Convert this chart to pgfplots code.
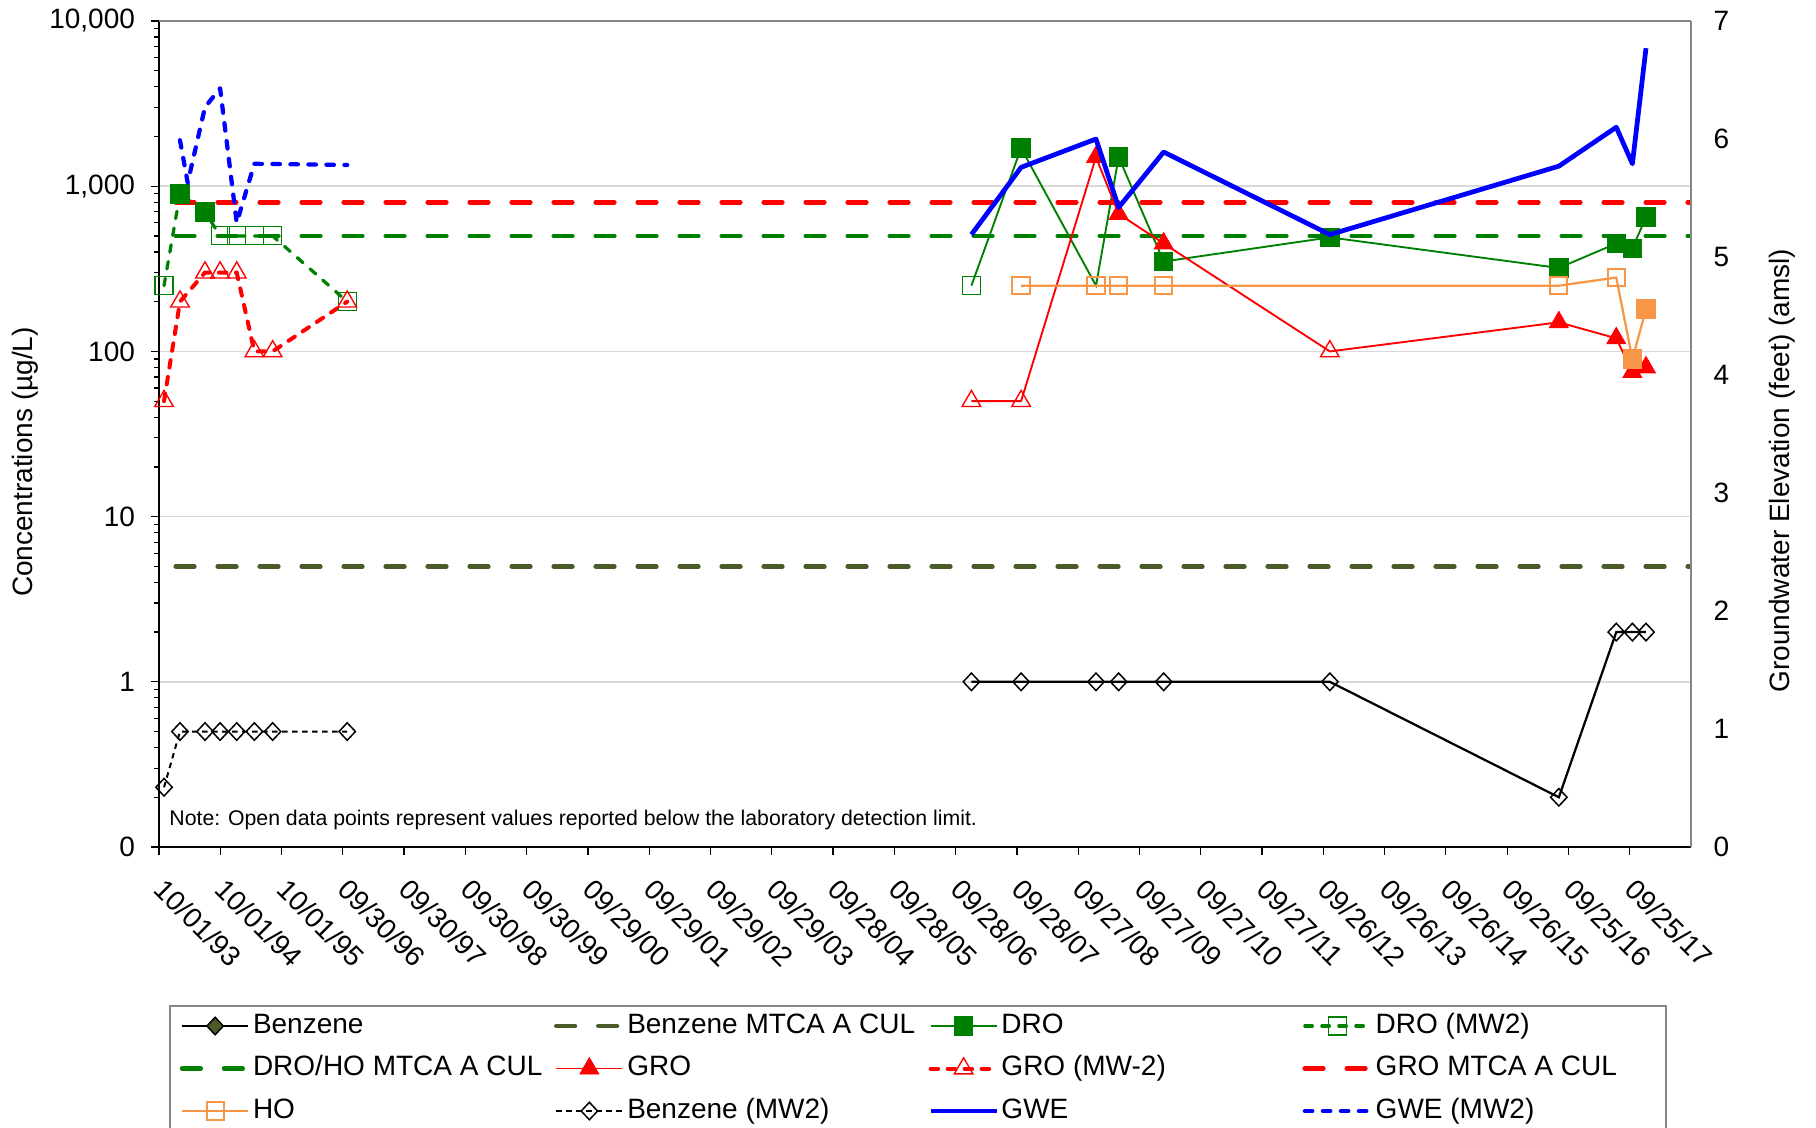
\documentclass[border=0pt]{standalone}
\usepackage{fontspec}
\setmainfont{Liberation Sans}
\usepackage{pgfplots}
\pgfplotsset{compat=1.18}
\definecolor{droG}{HTML}{008000}
\definecolor{groR}{HTML}{FF0000}
\definecolor{hoO}{HTML}{F79646}
\definecolor{gweB}{HTML}{0000FF}
\definecolor{bzO}{HTML}{4A5A28}
\definecolor{gridc}{HTML}{D9D9D9}
\definecolor{bordc}{HTML}{868686}
\tikzset{
  cul/.style={line width=1.9pt, dash pattern=on 7.4pt off 9.4pt, line cap=round},
  mwdash/.style={dash pattern=on 3pt off 3.8pt, line cap=round},
}
\newcommand{\lt}[1]{\makebox[117pt][l]{#1}}
\newcommand{\ltl}[1]{\makebox[112pt][l]{#1}}
\begin{document}
\begin{tikzpicture}
\path[use as bounding box] (-63.6pt,-112pt) rectangle (662.8pt,338.8pt);
\begin{axis}[
  scale only axis, width=612.8pt, height=330.4pt,
  xmin=0, xmax=9125, ymode=log, ymin=0.1, ymax=10000,
  axis x line*=bottom, axis y line*=left,
  axis line style={black, line width=0.6pt},
  tick align=outside,
  major tick length=3pt, minor tick length=2pt,
  tick style={black, line width=0.5pt},
  xtick={0,365,...,8760},
  xticklabels={10/01/93,10/01/94,10/01/95,09/30/96,09/30/97,09/30/98,09/30/99,09/29/00,09/29/01,09/29/02,09/29/03,09/28/04,09/28/05,09/28/06,09/28/07,09/27/08,09/27/09,09/27/10,09/27/11,09/26/12,09/26/13,09/26/14,09/26/15,09/25/16,09/25/17},
  xticklabel style={rotate=-45, anchor=north west, font=\fontsize{11.2}{13}\selectfont, xshift=5.2pt, yshift=-0.7pt},
  ytick={0.1,1,10,100,1000,10000},
  yticklabels={0,1,10,100,{1,000},{10,000}},
  minor ytick={0.2,0.3,0.4,0.5,0.6,0.7,0.8,0.9,2,3,4,5,6,7,8,9,20,30,40,50,60,70,80,90,200,300,400,500,600,700,800,900,2000,3000,4000,5000,6000,7000,8000,9000},
  yticklabel style={font=\fontsize{11.2}{13}\selectfont, xshift=-3.1pt},
  ymajorgrids, major grid style={gridc, line width=0.7pt},
  ylabel={Concentrations (µg/L)},
  every axis y label/.style={at={(axis description cs:-0.0871,0.466)}, anchor=center, rotate=90, font=\fontsize{11.2}{13}\selectfont},
  legend columns=4, legend cell align=left,
  legend style={at={(0.00653,-0.1913)}, anchor=north west, draw=bordc, line width=0.6pt,
    inner xsep=4pt, inner ysep=2.8pt, row sep=6.4pt, font=\fontsize{11.2}{13}\selectfont,
    /tikz/every even column/.append style={column sep=3.4pt},
    /tikz/every odd column/.append style={column sep=1pt},
    nodes={inner xsep=0pt, inner ysep=0pt, text height=8.2pt, text depth=2.4pt}},
  legend image code/.code={\draw[mark repeat=2,mark phase=2,#1] plot coordinates {(0pt,0pt) (13.2pt,0pt) (26.4pt,0pt)};},
]
% Benzene (main well)
\addplot[black, line width=0.9pt, forget plot] coordinates {(4839,1)(5135,1)(5581,1)(5716,1)(5984,1)(6974,1)(8338,0.2)(8680,2)(8776,2)(8857,2)};
\addplot[only marks, mark=diamond, mark size=3.5pt, mark options={black, line width=0.6pt, fill=none, xscale=1.25}, forget plot] coordinates {(4839,1)(5135,1)(5581,1)(5716,1)(5984,1)(6974,1)(8338,0.2)(8680,2)(8776,2)(8857,2)};
% Benzene MTCA A CUL
\addplot[bzO, cul, forget plot] coordinates {(100,5)(9300,5)};
% DRO
\addplot[droG, line width=0.75pt, forget plot] coordinates {(4839,250)(5135,1700)(5581,250)(5716,1500)(5984,350)(6974,490)(8338,320)(8680,450)(8776,420)(8857,650)};
\addplot[only marks, mark=square*, mark size=3.7pt, mark options={droG, line width=0.4pt}, forget plot] coordinates {(5135,1700)(5716,1500)(5984,350)(6974,490)(8338,320)(8680,450)(8776,420)(8857,650)};
\addplot[only marks, mark=square, mark size=3.6pt, mark options={droG, line width=0.45pt, fill=none}, forget plot] coordinates {(4839,250)(5581,250)};
% DRO (MW2)
\addplot[droG, line width=1.3pt, mwdash, forget plot] coordinates {(30,250)(125,900)(274,700)(364,500)(463,500)(568,500)(677,500)(1121,200)};
\addplot[only marks, mark=square*, mark size=3.7pt, mark options={droG, solid, line width=0.4pt}, forget plot] coordinates {(125,900)(274,700)};
\addplot[only marks, mark=square, mark size=3.6pt, mark options={droG, solid, line width=0.45pt, fill=none}, forget plot] coordinates {(30,250)(364,500)(463,500)(568,500)(677,500)(1121,200)};
% DRO/HO MTCA A CUL
\addplot[droG, cul, forget plot] coordinates {(100,500)(9300,500)};
% GRO
\addplot[groR, line width=0.75pt, forget plot] coordinates {(4839,50)(5135,50)(5581,1500)(5716,680)(5984,450)(6974,100)(8338,150)(8680,120)(8776,75)(8857,80)};
\addplot[only marks, mark=triangle*, mark size=4.4pt, mark options={groR, line width=0.3pt}, forget plot] coordinates {(5581,1500)(5716,680)(5984,450)(8338,150)(8680,120)(8776,75)(8857,80)};
\addplot[only marks, mark=triangle, mark size=4.3pt, mark options={groR, line width=0.55pt, fill=none}, forget plot] coordinates {(4839,50)(5135,50)(6974,100)};
% GRO (MW-2)
\addplot[groR, line width=1.6pt, mwdash, forget plot] coordinates {(30,50)(125,200)(274,300)(364,300)(463,300)(568,100)(677,100)(1121,200)};
\addplot[only marks, mark=triangle, mark size=4.3pt, mark options={groR, solid, line width=0.55pt, fill=none}, forget plot] coordinates {(30,50)(125,200)(274,300)(364,300)(463,300)(568,100)(677,100)(1121,200)};
% GRO MTCA A CUL
\addplot[groR, cul, forget plot] coordinates {(100,800)(9300,800)};
% HO
\addplot[hoO, line width=0.9pt, forget plot] coordinates {(5135,250)(5581,250)(5716,250)(5984,250)(8338,250)(8680,280)(8776,90)(8857,180)};
\addplot[only marks, mark=square*, mark size=3.7pt, mark options={hoO, line width=0.4pt}, forget plot] coordinates {(8776,90)(8857,180)};
\addplot[only marks, mark=square, mark size=3.45pt, mark options={hoO, line width=0.8pt, fill=none}, forget plot] coordinates {(5135,250)(5581,250)(5716,250)(5984,250)(8338,250)(8680,280)};
% Benzene (MW2)
\addplot[black, line width=0.8pt, dash pattern=on 2.2pt off 1.8pt, forget plot] coordinates {(30,0.23)(125,0.5)(274,0.5)(364,0.5)(463,0.5)(568,0.5)(677,0.5)(1121,0.5)};
\addplot[only marks, mark=diamond, mark size=3.5pt, mark options={black, solid, line width=0.6pt, fill=none, xscale=1.25}, forget plot] coordinates {(30,0.23)(125,0.5)(274,0.5)(364,0.5)(463,0.5)(568,0.5)(677,0.5)(1121,0.5)};
% note
\node[anchor=west, inner sep=0pt, font=\fontsize{8.5}{10}\selectfont] at (axis description cs:0.0065,0.0327) {Note: Open data points represent values reported below the laboratory detection limit.};
% legend
\addlegendimage{black, line width=0.9pt, mark=diamond*, mark size=3.5pt, mark options={solid, fill=bzO, draw=black, line width=0.6pt, xscale=1.25}}
\addlegendentry{\lt{Benzene}}
\addlegendimage{bzO, cul}
\addlegendentry{\lt{Benzene MTCA A CUL}}
\addlegendimage{droG, line width=0.75pt, mark=square*, mark size=3.7pt, mark options={droG, line width=0.4pt}}
\addlegendentry{\lt{DRO}}
\addlegendimage{droG, line width=1.3pt, mwdash, mark=square, mark size=3.6pt, mark options={solid, droG, line width=0.45pt, fill=none}}
\addlegendentry{\ltl{DRO (MW2)}}
\addlegendimage{droG, cul}
\addlegendentry{\lt{DRO/HO MTCA A CUL}}
\addlegendimage{groR, line width=0.75pt, mark=triangle*, mark size=4.4pt, mark options={groR, line width=0.3pt}}
\addlegendentry{\lt{GRO}}
\addlegendimage{groR, line width=1.6pt, mwdash, mark=triangle, mark size=4.3pt, mark options={solid, groR, line width=0.55pt, fill=none}}
\addlegendentry{\lt{GRO (MW-2)}}
\addlegendimage{groR, cul}
\addlegendentry{\ltl{GRO MTCA A CUL}}
\addlegendimage{hoO, line width=0.9pt, mark=square, mark size=3.45pt, mark options={hoO, line width=0.8pt, fill=none}}
\addlegendentry{\lt{HO}}
\addlegendimage{black, line width=0.8pt, dash pattern=on 2.2pt off 1.8pt, mark=diamond, mark size=3.5pt, mark options={solid, black, line width=0.6pt, fill=none, xscale=1.25}}
\addlegendentry{\lt{Benzene (MW2)}}
\addlegendimage{gweB, line width=1.9pt}
\addlegendentry{\lt{GWE}}
\addlegendimage{gweB, line width=1.7pt, dash pattern=on 3pt off 4.2pt, line cap=round}
\addlegendentry{\ltl{GWE (MW2)}}
\end{axis}
\begin{axis}[
  scale only axis, width=612.8pt, height=330.4pt,
  xmin=0, xmax=9125, ymin=0, ymax=7,
  axis x line*=top, axis y line*=right,
  axis line style={bordc, line width=0.7pt},
  xtick=\empty, ytick={0,1,2,3,4,5,6,7},
  yticklabels={0,1,2,3,4,5,6,7},
  ytick style={draw=none}, major tick length=0pt,
  yticklabel style={font=\fontsize{11.2}{13}\selectfont, xshift=5.5pt},
  ylabel={Groundwater Elevation (feet) (amsl)},
  every axis y label/.style={at={(axis description cs:1.0594,0.4556)}, anchor=center, rotate=90, font=\fontsize{11.2}{13}\selectfont},
]
\addplot[gweB, line width=1.9pt, line join=round] coordinates {(4839,5.19)(5135,5.76)(5581,6.0)(5716,5.42)(5984,5.89)(6974,5.19)(8338,5.77)(8680,6.10)(8776,5.79)(8857,6.77)};
\addplot[gweB, line width=1.7pt, dash pattern=on 3pt off 4.2pt, line cap=round, line join=round] coordinates {(125,5.99)(171,5.63)(274,6.27)(364,6.43)(463,5.29)(568,5.79)(1121,5.78)};
\end{axis}
\end{tikzpicture}
\end{document}
